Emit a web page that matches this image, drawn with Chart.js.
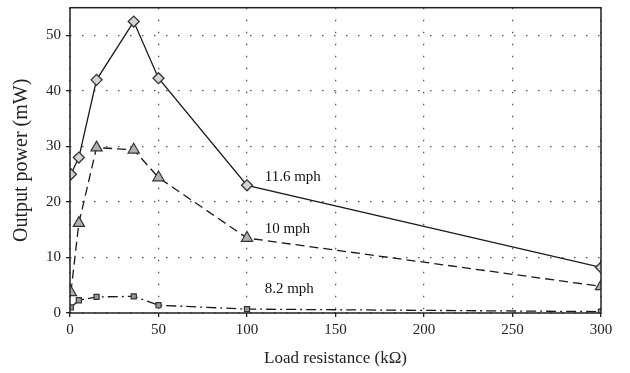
<!DOCTYPE html>
<html>
<head>
<meta charset="utf-8">
<script src="https://cdn.jsdelivr.net/npm/chart.js@4"></script>
<style>
  html, body { margin: 0; padding: 0; background: #fff; }
  #wrap { width: 630px; height: 373px; position: relative; }
</style>
</head>
<body>
<div id="wrap"><canvas id="chart"></canvas></div>
<script>
// Output power vs load resistance at three wind speeds

const resistance = [0.5, 5, 15, 36, 50, 100, 300];
const power116 = [25.0, 28.0, 42.0, 52.5, 42.3, 23.0, 8.2];
const power10 = [3.7, 16.2, 29.8, 29.4, 24.4, 13.5, 4.8];
const power82 = [1.0, 2.3, 2.9, 3.0, 1.4, 0.7, 0.25];

const speedLabels = ["11.6 mph", "10 mph", "8.2 mph"];
const labelX = [110, 110, 110];
const labelY = [24.4, 15.2, 4.4];

const serif = "'Liberation Serif', 'DejaVu Serif', serif";

function toPoints(ys) {
  return resistance.map((x, i) => ({ x: x, y: ys[i] }));
}

// box round the plot area and the speed labels
const framePlugin = {
  id: "frame",
  afterDatasetsDraw(chart) {
    const { ctx, chartArea, scales } = chart;
    ctx.save();
    ctx.strokeStyle = "#222";
    ctx.lineWidth = 1.5;
    ctx.strokeRect(chartArea.left, chartArea.top,
      chartArea.right - chartArea.left, chartArea.bottom - chartArea.top);
    ctx.fillStyle = "#111";
    ctx.font = "15px " + serif;
    ctx.textAlign = "left";
    ctx.textBaseline = "middle";
    speedLabels.forEach((t, i) => {
      ctx.fillText(t, scales.x.getPixelForValue(labelX[i]),
        scales.y.getPixelForValue(labelY[i]));
    });
    ctx.restore();
  },
};

const gridStyle = {
  color: "#555",
  lineWidth: 1.3,
  tickColor: "#222",
  tickLength: 4,
  tickBorderDash: [],
};

new Chart(document.getElementById("chart"), {
  type: "line",
  data: {
    datasets: [
      {
        label: speedLabels[0],
        data: toPoints(power116),
        borderColor: "#1a1a1a",
        borderWidth: 1.3,
        pointStyle: "rectRot",
        pointRadius: 5.5,
        pointBackgroundColor: "#d4d4d4",
        pointBorderColor: "#333",
        pointBorderWidth: 1.3,
      },
      {
        label: speedLabels[1],
        data: toPoints(power10),
        borderColor: "#1a1a1a",
        borderWidth: 1.3,
        borderDash: [9, 5],
        pointStyle: "triangle",
        pointRadius: 6.5,
        pointBackgroundColor: "#b0b0b0",
        pointBorderColor: "#333",
        pointBorderWidth: 1.2,
      },
      {
        label: speedLabels[2],
        data: toPoints(power82),
        borderColor: "#1a1a1a",
        borderWidth: 1.3,
        borderDash: [10, 4, 2, 4],
        pointStyle: "rect",
        pointRadius: 3.6,
        pointBackgroundColor: "#9a9a9a",
        pointBorderColor: "#333",
        pointBorderWidth: 1.2,
      },
    ],
  },
  options: {
    responsive: true,
    maintainAspectRatio: false,
    animation: false,
    layout: {
      padding: { top: 6, right: 29, left: 0, bottom: 0 },
    },
    scales: {
      x: {
        type: "linear",
        min: 0,
        max: 300,
        afterFit: (scale) => { scale.height = 60; },
        ticks: {
          stepSize: 50,
          color: "#222",
          padding: 4,
          font: { family: serif, size: 15 },
        },
        grid: gridStyle,
        border: { display: false, dash: [1.5, 10.5] },
        title: {
          display: true,
          text: "Load resistance (kΩ)",
          color: "#222",
          font: { family: serif, size: 17 },
          padding: { top: 6 },
        },
      },
      y: {
        min: 0,
        max: 55,
        afterFit: (scale) => {
          scale.width = 70;
          scale.paddingTop = 0;
        },
        ticks: {
          stepSize: 10,
          includeBounds: false,
          color: "#222",
          padding: 5,
          font: { family: serif, size: 15 },
        },
        grid: gridStyle,
        border: { display: false, dash: [1.5, 10.5] },
        title: {
          display: true,
          text: "Output power (mW)",
          color: "#222",
          font: { family: serif, size: 20 },
          padding: { top: 10, bottom: 0 },
        },
      },
    },
    plugins: {
      legend: { display: false },
      tooltip: { enabled: false },
    },
  },
  plugins: [framePlugin],
});
</script>
</body>
</html>
